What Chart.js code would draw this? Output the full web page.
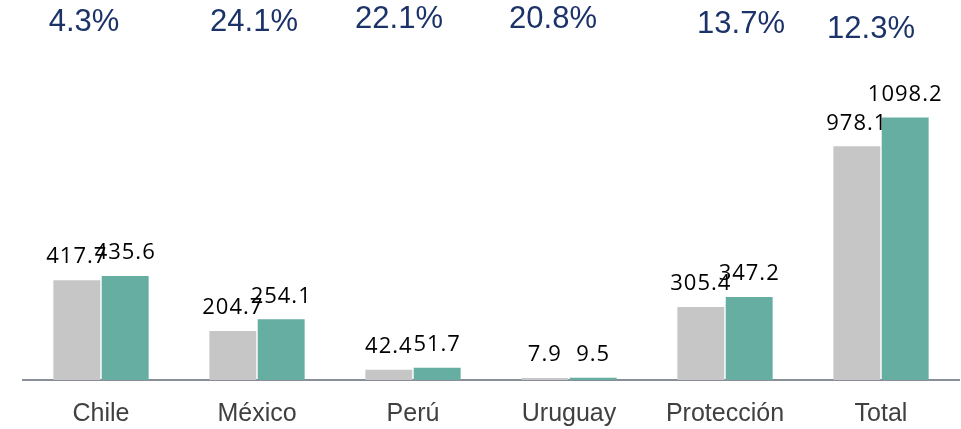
<!DOCTYPE html>
<html>
<head>
<meta charset="utf-8">
<script src="https://cdn.jsdelivr.net/npm/chart.js@4/dist/chart.umd.min.js"></script>
<style>
    html, body { margin: 0; padding: 0; background: #fff; }
    #wrap { width: 961px; height: 429px; position: relative; }
</style>
</head>
<body>
<div id="wrap"><canvas id="mainChart"></canvas></div>
<script>
// Chart data
const categories = ['Chile', 'México', 'Perú', 'Uruguay', 'Protección', 'Total'];
const prevValues = [417.7, 204.7, 42.4, 7.9, 305.4, 978.1];
const currValues = [435.6, 254.1, 51.7, 9.5, 347.2, 1098.2];
const growthLabels = ['4.3%', '24.1%', '22.1%', '20.8%', '13.7%', '12.3%'];

// small nudges for the growth labels (text placement only)
const growthNudge = [[-17, 0], [-3, 0], [-14, -3], [-16, -3], [16, 2], [-10, 7]];

const growthPlugin = {
    id: 'growthLabels',
    afterDraw(chart) {
        const ctx = chart.ctx;
        const xScale = chart.scales.x;
        ctx.save();
        ctx.font = '31px "Liberation Sans", Arial, sans-serif';
        ctx.fillStyle = '#1b3368';
        ctx.textAlign = 'center';
        ctx.textBaseline = 'middle';
        growthLabels.forEach((txt, i) => {
            const x = xScale.getPixelForValue(i) + growthNudge[i][0];
            ctx.fillText(txt, x, 22 + growthNudge[i][1]);
        });
        ctx.restore();
    }
};

const valueLabelPlugin = {
    id: 'valueLabels',
    afterDatasetsDraw(chart) {
        const ctx = chart.ctx;
        ctx.save();
        ctx.font = '22px "Open Sans", sans-serif';
        ctx.letterSpacing = '1px';
        ctx.fillStyle = '#000';
        ctx.textAlign = 'center';
        ctx.textBaseline = 'bottom';
        chart.data.datasets.forEach((ds, di) => {
            const meta = chart.getDatasetMeta(di);
            meta.data.forEach((bar, i) => {
                ctx.fillText(ds.data[i].toFixed(1), bar.x, bar.y - 12);
            });
        });
        ctx.restore();
    }
};

new Chart(document.getElementById('mainChart'), {
    type: 'bar',
    data: {
        labels: categories,
        datasets: [
            {
                label: 'Anterior',
                data: prevValues,
                backgroundColor: '#c6c6c6',
                categoryPercentage: 0.62,
                barPercentage: 0.97
            },
            {
                label: 'Actual',
                data: currValues,
                backgroundColor: '#66ada2',
                categoryPercentage: 0.62,
                barPercentage: 0.97
            }
        ]
    },
    options: {
        responsive: true,
        maintainAspectRatio: false,
        animation: false,
        layout: {
            padding: { left: 23, right: 2, top: 0, bottom: -20 }
        },
        plugins: {
            legend: { display: false },
            tooltip: { enabled: false }
        },
        scales: {
            y: {
                display: false,
                min: 0,
                max: 1590
            },
            x: {
                grid: { display: false, drawTicks: false },
                border: { display: true, color: '#8a8e98', width: 2 },
                ticks: {
                    color: '#404040',
                    padding: 22,
                    font: { family: '"Liberation Sans", Arial, sans-serif', size: 25, lineHeight: 1 }
                }
            }
        }
    },
    plugins: [valueLabelPlugin, growthPlugin]
});
</script>
</body>
</html>
